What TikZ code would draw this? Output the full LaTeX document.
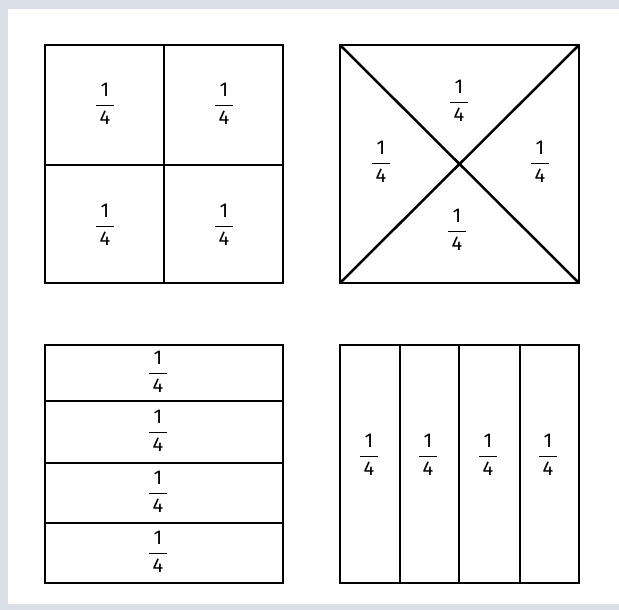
\documentclass[tikz,border=0pt]{standalone}
\usepackage{fontspec}
\setmainfont{Fira Sans}
\definecolor{scanedge}{RGB}{218,222,230}
\newcommand{\qfrac}{$\displaystyle\frac{\mbox{\,1\,}}{\mbox{\,4\,}}$}
\begin{document}
\begin{tikzpicture}[x=1pt,y=-1pt,
  box/.style={line width=2.8pt, line join=miter},
  part/.style={line width=2.5pt},
  frac/.style={font=\fontsize{20}{22}\selectfont, inner sep=0pt}]
\useasboundingbox (0,0) rectangle (619,610);
\fill[white] (0,0) rectangle (619,610);
\fill[scanedge] (0,0) rectangle (619,9);
\fill[scanedge] (0,0) rectangle (8,610);
\fill[scanedge] (0,604) rectangle (619,610);

% top-left: 2x2 grid
\draw[part] (164,45) -- (164,283);
\draw[part] (45,165) -- (283,165);
\draw[box] (45,45) rectangle (283,283);
\node[frac] (a1) at (105,104) {\qfrac};
\node[frac] (a2) at (224,104) {\qfrac};
\node[frac] (a3) at (105,225) {\qfrac};
\node[frac] (a4) at (224,225) {\qfrac};

% top-right: diagonals
\draw[part] (340,45) -- (579,283);
\draw[part] (579,45) -- (340,283);
\draw[box] (340,45) rectangle (579,283);
\node[frac] (b1) at (459,101) {\qfrac};
\node[frac] (b2) at (381,162) {\qfrac};
\node[frac] (b3) at (540,162) {\qfrac};
\node[frac] (b4) at (457,230) {\qfrac};

% bottom-left: rows
\draw[part] (45,401) -- (283,401);
\draw[part] (45,463) -- (283,463);
\draw[part] (45,523) -- (283,523);
\draw[box] (45,345) rectangle (283,583);
\node[frac] (c1) at (158,372) {\qfrac};
\node[frac] (c2) at (158,431) {\qfrac};
\node[frac] (c3) at (158,492) {\qfrac};
\node[frac] (c4) at (158,552) {\qfrac};

% bottom-right: columns
\draw[part] (400,345) -- (400,583);
\draw[part] (459,345) -- (459,583);
\draw[part] (520,345) -- (520,583);
\draw[box] (340,345) rectangle (579,583);
\node[frac] (d1) at (369,455) {\qfrac};
\node[frac] (d2) at (428,455) {\qfrac};
\node[frac] (d3) at (488,455) {\qfrac};
\node[frac] (d4) at (548,455) {\qfrac};
\end{tikzpicture}
\end{document}
